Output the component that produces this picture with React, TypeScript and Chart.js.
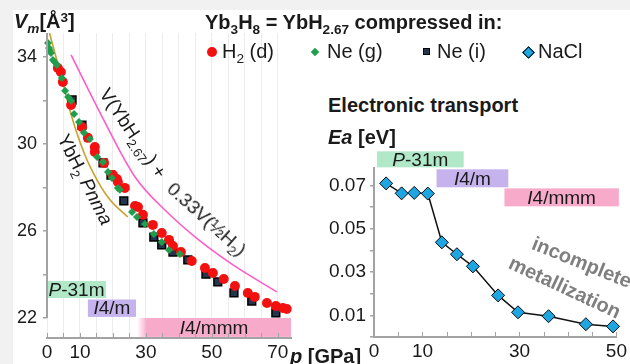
import React, { useEffect, useRef } from 'react';
import { Chart, registerables } from 'chart.js';

Chart.register(...registerables);

const FONT = '"Liberation Sans", Arial, Helvetica, sans-serif';
const AXIS = '#a3a3a3';
const TEXT = '#1a1a1a';

// ---- Main chart: molar volume Vm [Å3] vs pressure p [GPa] ----
const h2dPressure = [3.3, 4.2, 4.8, 7.3, 10.6, 12.4, 14.5, 14.5, 17.3, 20.0, 21.2, 21.5, 23.6, 26.7, 27.6, 29.1, 32.1, 34.8, 37.0, 38.2, 40.6, 43.9, 47.9, 50.3, 53.6, 57.0, 60.9, 63.0, 66.7, 69.4, 71.5, 72.7];
const h2dVolume = [33.49, 33.31, 32.85, 31.79, 30.78, 30.28, 29.86, 29.63, 29.13, 28.57, 28.39, 28.25, 27.98, 27.15, 27.10, 26.74, 26.28, 25.91, 25.59, 25.31, 25.03, 24.62, 24.30, 24.07, 23.79, 23.47, 23.15, 22.97, 22.69, 22.55, 22.46, 22.41];

const neGasPressure = [0.3, 0.6, 0.9, 1.2, 1.8, 2.4, 3.0, 4.5, 5.5, 6.4, 7.3, 8.2, 9.7, 11.2, 13.0, 15.2, 17.0, 18.5, 19.7, 21.5, 22.1, 25.8, 27.3, 29.7, 32.4, 34.8, 37.0, 40.3];
const neGasVolume = [34.64, 34.41, 34.30, 34.18, 33.86, 33.75, 33.63, 33.03, 32.44, 32.16, 31.98, 31.38, 31.01, 30.51, 30.23, 29.40, 29.17, 28.71, 28.44, 27.98, 27.89, 26.87, 26.64, 26.32, 25.86, 25.49, 25.13, 24.94];

const neIcePressure = [7.6, 10.6, 17.0, 19.4, 23.3, 29.1, 32.4, 34.8, 38.2, 42.7, 48.2, 51.8, 56.7, 62.1, 69.4];
const neIceVolume = [32.02, 30.87, 29.13, 28.57, 27.38, 26.37, 25.72, 25.36, 25.03, 24.67, 24.02, 23.66, 23.15, 22.78, 22.23];

const ybh2Pressure = [0.75, 4.2, 7.6, 11.5, 15.2, 19.1, 24.5];
const ybh2Volume = [35.1, 33.17, 31.2, 29.49, 28.34, 27.43, 26.64];

const sumPressure = [7.3, 16.1, 26.7, 36.4, 46.4, 56.4, 69.7];
const sumVolume = [34.09, 31.43, 28.48, 26.87, 25.54, 24.44, 23.2];

const mainXTickLabels = [0, 10, 30, 50, 70];
const mainYTickLabels = [22, 26, 30, 34];

// ---- Inset: activation energy Ea [eV] vs pressure (NaCl medium) ----
const naclPressure = [2.5, 5.7, 8.3, 11.1, 14.0, 17.1, 20.4, 25.6, 29.7, 36.0, 43.7, 49.3];
const naclEa = [0.0709, 0.0663, 0.0665, 0.0662, 0.0437, 0.0382, 0.0326, 0.0192, 0.0114, 0.0096, 0.0059, 0.0049];

const insetXTickLabels = [0, 10, 30, 50];
const insetYTickLabels = [0.01, 0.03, 0.05, 0.07];

// ---- Phase ranges ----
const phaseItalic = ['P', 'I', 'I'];
const phaseRest = ['-31m', '4/m', '4/mmm'];
const mainPhaseStart = [0, 12.4, 27.3];
const mainPhaseEnd = [17.9, 27.0, 74];
const insetPhaseStart = [0.6, 12.9, 26.9];
const insetPhaseEnd = [18.5, 27.7, 50.5];

const PHASE_COLORS = ['#b0e8c8', '#c6b3ee', '#f8aacb'];

const pts = (xs: number[], ys: number[]) => xs.map((x, i) => ({ x, y: ys[i] }));

function bandsPlugin(id: string, starts: number[], ends: number[], rows: number[][], fadeLast: boolean) {
  return {
    id,
    beforeDatasetsDraw(chart: any) {
      const { ctx, scales } = chart;
      const x = scales.x, y = scales.y;
      ctx.save();
      for (let i = 0; i < starts.length; i++) {
        const x0 = x.getPixelForValue(starts[i]);
        const x1 = x.getPixelForValue(ends[i]);
        const y0 = y.getPixelForValue(rows[i][0]);
        const y1 = y.getPixelForValue(rows[i][1]);
        let fill: any = PHASE_COLORS[i];
        if (fadeLast && i === starts.length - 1) {
          const g = ctx.createLinearGradient(x0, 0, x0 + 10, 0);
          g.addColorStop(0, 'rgba(248,170,203,0)');
          g.addColorStop(1, PHASE_COLORS[i]);
          fill = g;
        }
        ctx.fillStyle = fill;
        ctx.fillRect(x0, y0, x1 - x0, y1 - y0);
        const fItal = `italic 19px ${FONT}`;
        const fNorm = `19px ${FONT}`;
        ctx.font = fItal;
        const w1 = ctx.measureText(phaseItalic[i]).width;
        ctx.font = fNorm;
        const w2 = ctx.measureText(phaseRest[i]).width;
        const cx = (x0 + x1) / 2;
        const cy = (y0 + y1) / 2 + 1;
        const sx = cx - (w1 + w2) / 2;
        ctx.fillStyle = TEXT;
        ctx.textBaseline = 'middle';
        ctx.textAlign = 'left';
        ctx.font = fItal;
        ctx.fillText(phaseItalic[i], sx, cy);
        ctx.font = fNorm;
        ctx.fillText(phaseRest[i], sx + w1, cy);
      }
      ctx.restore();
    },
  };
}

function axisPlugin(id: string, yAxisEnd: number | null) {
  return {
    id,
    afterDraw(chart: any) {
      const { ctx, chartArea, scales } = chart;
      const x = scales.x, y = scales.y;
      ctx.save();
      ctx.strokeStyle = AXIS;
      if (yAxisEnd !== null) {
        ctx.lineWidth = 2;
        ctx.beginPath();
        ctx.moveTo(chartArea.left, chartArea.top);
        ctx.lineTo(chartArea.left, y.getPixelForValue(yAxisEnd));
        ctx.stroke();
      }
      ctx.lineWidth = 1;
      ctx.beginPath();
      x.ticks.forEach((t: any) => {
        const px = Math.round(x.getPixelForValue(t.value)) + 0.5;
        ctx.moveTo(px, chartArea.bottom - 5);
        ctx.lineTo(px, chartArea.bottom);
      });
      ctx.stroke();
      ctx.restore();
    },
  };
}

const near = (v: number, list: number[]) => list.some((l) => Math.abs(v - l) < 1e-6);

const Sub = ({ children }: any) => (
  <span style={{ fontSize: '0.68em', position: 'relative', top: '0.35em' }}>{children}</span>
);
const Sup = ({ children }: any) => (
  <span style={{ fontSize: '0.68em', position: 'relative', top: '-0.45em' }}>{children}</span>
);

const rot = (cx: number, cy: number, deg: number, extra: any = {}) => ({
  position: 'absolute' as const,
  left: cx,
  top: cy,
  transform: `translate(-50%,-50%) rotate(${deg}deg)`,
  whiteSpace: 'nowrap' as const,
  lineHeight: '20px',
  ...extra,
});

export default function App() {
  const mainRef = useRef<HTMLCanvasElement>(null);
  const insetRef = useRef<HTMLCanvasElement>(null);

  useEffect(() => {
    Chart.defaults.font.family = FONT;
    Chart.defaults.color = TEXT;

    const main = new Chart(mainRef.current as HTMLCanvasElement, {
      type: 'scatter',
      data: {
        datasets: [
          {
            label: 'Ne (g)',
            data: pts(neGasPressure, neGasVolume),
            pointStyle: 'rectRot',
            pointRadius: 4,
            backgroundColor: '#1f9e4c',
            borderColor: '#1f9e4c',
            borderWidth: 0,
            clip: false,
          } as any,
          {
            label: 'H2 (d)',
            data: pts(h2dPressure, h2dVolume),
            pointStyle: 'circle',
            pointRadius: 5,
            backgroundColor: '#f21010',
            borderColor: '#f21010',
            borderWidth: 0,
            clip: false,
          },
          {
            label: 'Ne (i)',
            data: pts(neIcePressure, neIceVolume),
            pointStyle: 'rect',
            pointRadius: 5.5,
            backgroundColor: '#24364d',
            borderColor: '#000000',
            borderWidth: 1.5,
            clip: false,
          },
          {
            label: 'YbH2 Pnma',
            data: pts(ybh2Pressure, ybh2Volume),
            showLine: true,
            pointRadius: 0,
            borderColor: '#c9a12a',
            borderWidth: 1.6,
            cubicInterpolationMode: 'monotone',
          },
          {
            label: 'V(YbH2.67)+0.33V(1/2H2)',
            data: pts(sumPressure, sumVolume),
            showLine: true,
            pointRadius: 0,
            borderColor: '#ff5cc8',
            borderWidth: 1.6,
            cubicInterpolationMode: 'monotone',
          },
        ],
      },
      options: {
        animation: false,
        responsive: false,
        devicePixelRatio: 1,
        layout: { padding: { left: 0, top: 33, right: 9, bottom: 0 } },
        plugins: { legend: { display: false }, tooltip: { enabled: false } },
        scales: {
          x: {
            type: 'linear',
            min: 0,
            max: 74,
            afterFit: (s: any) => { s.height = 26; },
            ticks: {
              stepSize: 5,
              autoSkip: false,
              maxRotation: 0,
              includeBounds: false,
              padding: 3,
              font: { size: 19 },
              color: TEXT,
              callback: (v: any) => (near(Number(v), mainXTickLabels) ? String(v) : ''),
            },
            grid: { color: '#ececec', drawTicks: false, lineWidth: 1 },
            border: { display: true, color: AXIS, width: 2 },
          },
          y: {
            type: 'linear',
            min: 21.08,
            max: 35.1,
            afterFit: (s: any) => { s.width = 47; },
            ticks: {
              stepSize: 2,
              autoSkip: false,
              includeBounds: false,
              padding: 6,
              font: { size: 18 },
              color: TEXT,
              callback: (v: any) => (near(Number(v), mainYTickLabels) ? String(v) : ''),
            },
            grid: { drawOnChartArea: false, drawTicks: true, tickLength: 4, tickColor: AXIS, color: AXIS, lineWidth: 1.5 },
            border: { display: false },
          },
        },
      } as any,
      plugins: [
        bandsPlugin('mainBands', mainPhaseStart, mainPhaseEnd, [[23.7, 22.92], [22.85, 22.05], [22.0, 21.13]], true),
        axisPlugin('mainAxis', 22),
      ],
    });

    const inset = new Chart(insetRef.current as HTMLCanvasElement, {
      type: 'scatter',
      data: {
        datasets: [
          {
            label: 'NaCl',
            data: pts(naclPressure, naclEa),
            showLine: true,
            borderColor: '#111111',
            borderWidth: 1.5,
            pointStyle: 'rectRot',
            pointRadius: 6.5,
            pointBackgroundColor: '#1ea6e2',
            pointBorderColor: '#0a0a0a',
            pointBorderWidth: 1,
            clip: false,
          } as any,
        ],
      },
      options: {
        animation: false,
        responsive: false,
        devicePixelRatio: 1,
        layout: { padding: { left: 0, top: 28, right: 12, bottom: 0 } },
        plugins: { legend: { display: false }, tooltip: { enabled: false } },
        scales: {
          x: {
            type: 'linear',
            min: 0,
            max: 50,
            afterFit: (s: any) => { s.height = 27; },
            ticks: {
              stepSize: 5,
              autoSkip: false,
              maxRotation: 0,
              includeBounds: false,
              padding: 3,
              font: { size: 19 },
              color: TEXT,
              callback: (v: any) => (near(Number(v), insetXTickLabels) ? String(v) : ''),
            },
            grid: { drawOnChartArea: false, drawTicks: false },
            border: { display: true, color: AXIS, width: 2 },
          },
          y: {
            type: 'linear',
            min: 0,
            max: 0.078,
            afterFit: (s: any) => { s.width = 74; },
            ticks: {
              stepSize: 0.01,
              autoSkip: false,
              includeBounds: false,
              padding: 4,
              font: { size: 19 },
              color: TEXT,
              callback: (v: any) => (near(Number(v), insetYTickLabels) ? Number(v).toFixed(2) : ''),
            },
            grid: { drawOnChartArea: false, drawTicks: true, tickLength: 4, tickColor: AXIS, color: AXIS, lineWidth: 1.5 },
            border: { display: true, color: AXIS, width: 2 },
          },
        },
      } as any,
      plugins: [
        bandsPlugin('insetBands', insetPhaseStart, insetPhaseEnd, [[0.0857, 0.0783], [0.0774, 0.0691], [0.0686, 0.0603]], false),
        axisPlugin('insetAxis', null),
      ],
    });

    return () => {
      main.destroy();
      inset.destroy();
    };
  }, []);

  const marker = (extra: any) => ({ position: 'absolute' as const, ...extra });

  return (
    <div
      style={{
        position: 'absolute',
        left: 0,
        top: 0,
        width: 630,
        height: 364,
        overflow: 'hidden',
        background: '#f1f1f1',
        fontFamily: FONT,
        color: TEXT,
      }}
    >
      <div style={{ position: 'absolute', left: 13, top: 10, right: 0, bottom: 0, background: '#ffffff' }} />
      <canvas ref={mainRef} width={300} height={364} style={{ position: 'absolute', left: 0, top: 0 }} />
      <canvas ref={insetRef} width={330} height={224} style={{ position: 'absolute', left: 300, top: 140 }} />

      {/* Y title main */}
      <div style={{ position: 'absolute', left: 14, top: 11, fontSize: 20, fontWeight: 'bold', lineHeight: '20px', whiteSpace: 'nowrap' }}>
        <i>V</i><Sub><i>m</i></Sub>[Å<Sup>3</Sup>]
      </div>

      {/* Title */}
      <div style={{ position: 'absolute', left: 205, top: 12, fontSize: 20, fontWeight: 'bold', lineHeight: '20px', whiteSpace: 'nowrap' }}>
        Yb<Sub>3</Sub>H<Sub>8</Sub> = YbH<Sub>2.67</Sub> compressed in:
      </div>

      {/* Legend */}
      <div style={marker({ left: 207, top: 47, width: 10, height: 10, borderRadius: '50%', background: '#f21010' })} />
      <div style={{ position: 'absolute', left: 222, top: 41, fontSize: 20, lineHeight: '20px', whiteSpace: 'nowrap' }}>
        H<Sub>2</Sub> (d)
      </div>
      <div style={marker({ left: 312, top: 49, width: 6, height: 6, background: '#1f9e4c', transform: 'rotate(45deg)' })} />
      <div style={{ position: 'absolute', left: 327, top: 41, fontSize: 20, lineHeight: '20px', whiteSpace: 'nowrap' }}>Ne (g)</div>
      <div style={marker({ left: 423, top: 48, width: 5, height: 5, background: '#24364d', border: '1.5px solid #000' })} />
      <div style={{ position: 'absolute', left: 437, top: 41, fontSize: 20, lineHeight: '20px', whiteSpace: 'nowrap' }}>Ne (i)</div>
      <div style={marker({ left: 524, top: 48, width: 7, height: 7, background: '#1ea6e2', border: '1px solid #000', transform: 'rotate(45deg)' })} />
      <div style={{ position: 'absolute', left: 538, top: 41, fontSize: 20, lineHeight: '20px', whiteSpace: 'nowrap' }}>NaCl</div>

      {/* Inset titles */}
      <div style={{ position: 'absolute', left: 328, top: 95, fontSize: 20, fontWeight: 'bold', lineHeight: '20px', whiteSpace: 'nowrap' }}>
        Electronic transport
      </div>
      <div style={{ position: 'absolute', left: 328, top: 127, fontSize: 20, fontWeight: 'bold', lineHeight: '20px', whiteSpace: 'nowrap' }}>
        <i>Ea</i> [eV]
      </div>

      {/* X title */}
      <div style={{ position: 'absolute', left: 290, top: 346, fontSize: 20, fontWeight: 'bold', lineHeight: '20px', whiteSpace: 'nowrap' }}>
        <i>p</i> [GPa]
      </div>

      {/* Curve annotations */}
      <div style={rot(84, 180, 63, { fontSize: 19 })}>
        YbH<Sub>2</Sub> <i>Pnma</i>
      </div>
      <div style={rot(132, 134, 56, { fontSize: 19 })}>
        V(YbH<Sub>2.67</Sub>) +
      </div>
      <div style={rot(206, 220, 42, { fontSize: 19 })}>
        0.33V(½H<Sub>2</Sub>)
      </div>

      {/* Inset annotation */}
      <div style={rot(582, 262, 22, { fontSize: 20, fontWeight: 'bold', color: '#7f7f7f' })}>incomplete</div>
      <div style={rot(565, 287, 25, { fontSize: 20, fontWeight: 'bold', color: '#7f7f7f' })}>metallization</div>
    </div>
  );
}
